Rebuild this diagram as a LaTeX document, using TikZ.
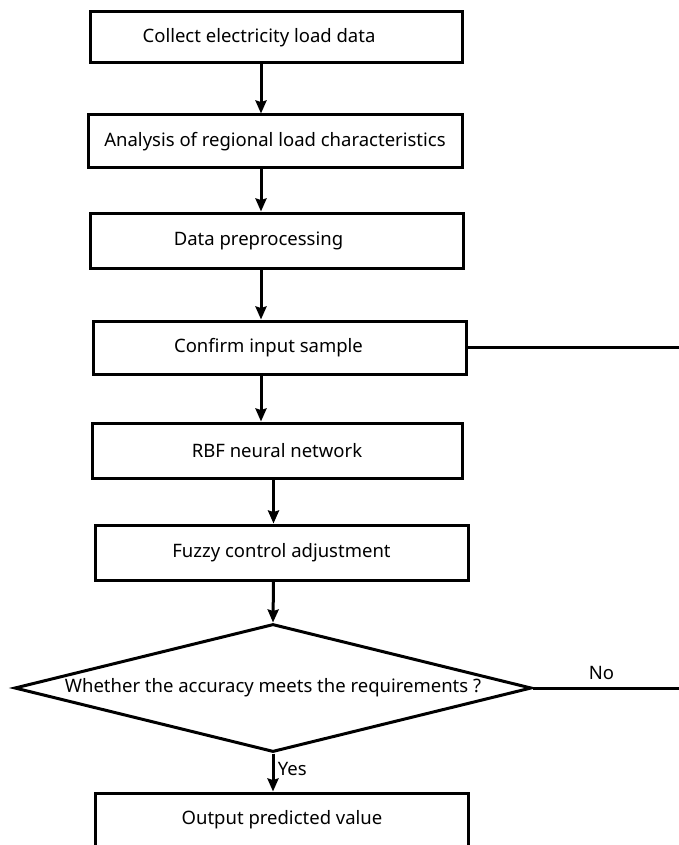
\documentclass[tikz,border=0pt]{standalone}
\usepackage{fontspec}
\setmainfont{Noto Sans}
\usepackage{tikz}
\usetikzlibrary{shapes.geometric,arrows.meta,positioning,calc}

\begin{document}
\begin{tikzpicture}[
    x=1pt, y=-1pt,
    every node/.style={font=\fontsize{18.5}{22}\selectfont},
    box/.style={rectangle, draw, line width=3pt, minimum width=373pt, minimum height=53pt, inner sep=0pt},
    textleft/.style={execute at begin node={\hspace*{-#1}}},
    decision/.style={diamond, draw, line width=3pt, minimum width=517pt, minimum height=128pt, inner sep=0pt, aspect=4},
    arrow/.style={-{Stealth[length=13pt,width=11pt,inset=1.5pt]}, line width=3pt},
    line/.style={line width=3pt}
]
    \useasboundingbox (0,0) rectangle (679,845);

    \node[box, textleft=34pt, minimum width=372pt, minimum height=51pt] (collect) at (276,37.5) {Collect electricity load data};
    \node[box, minimum width=374pt] (analysis) at (275,141.5) {Analysis of regional load characteristics};
    \node[box, textleft=36pt, minimum height=55pt] (prep) at (276.5,240.5) {Data preprocessing};
    \node[box, textleft=22pt] (confirm) at (279.5,347.5) {Confirm input sample};
    \node[box, minimum width=370pt, minimum height=55pt] (rbf) at (277,450.5) {RBF neural network};
    \node[box, minimum height=55pt] (fuzzy) at (281.5,552.5) {Fuzzy control adjustment};
    \node[decision] (check) at (273,688) {Whether the accuracy meets the requirements ?};
    \node[box, minimum height=54pt] (output) at (282,820) {Output predicted value};

    % arrow axes and right edge
    \coordinate (axisA) at (261,0);
    \coordinate (axisB) at (273.5,0);
    \coordinate (edgeR) at (685,0);

    \draw[arrow] (collect.south -| axisA) -- (analysis.north -| axisA);
    \draw[arrow] (analysis.south -| axisA) -- (prep.north -| axisA);
    \draw[arrow] (prep.south -| axisA) -- (confirm.north -| axisA);
    \draw[arrow] (confirm.south -| axisA) -- (rbf.north -| axisA);
    \draw[arrow] (rbf.south -| axisB) -- (fuzzy.north -| axisB);
    \draw[arrow] (fuzzy.south -| axisB) -- (check.north);
    \draw[arrow] (check.south) -- node[right, pos=0.4] (yes) {Yes} (output.north -| check.south);

    \draw[line] (confirm.east) -- (confirm.east -| edgeR);
    \draw[line] (check.east) -- node[above=3pt, pos=0.45] (no) {No} (check.east -| edgeR);
\end{tikzpicture}
\end{document}
